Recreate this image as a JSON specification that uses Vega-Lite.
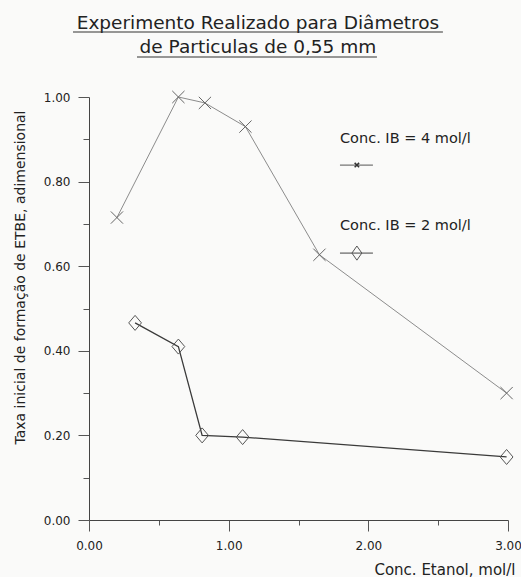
{
  "$schema": "https://vega.github.io/schema/vega-lite/v6.json",
  "width": 419,
  "height": 423,
  "autosize": "none",
  "padding": {"left": 89, "top": 97, "right": 13, "bottom": 57},
  "background": "#fafaf9",
  "config": {"view": {"stroke": null}, "font": "DejaVu Sans"},
  "datasets": {
    "dados": [
      {"conc": 0.20, "taxa": 0.715, "serie": "4 mol/l"},
      {"conc": 0.64, "taxa": 1.00, "serie": "4 mol/l"},
      {"conc": 0.83, "taxa": 0.986, "serie": "4 mol/l"},
      {"conc": 1.12, "taxa": 0.93, "serie": "4 mol/l"},
      {"conc": 1.65, "taxa": 0.627, "serie": "4 mol/l"},
      {"conc": 2.99, "taxa": 0.30, "serie": "4 mol/l"},
      {"conc": 0.33, "taxa": 0.466, "serie": "2 mol/l"},
      {"conc": 0.64, "taxa": 0.41, "serie": "2 mol/l"},
      {"conc": 0.81, "taxa": 0.20, "serie": "2 mol/l"},
      {"conc": 1.10, "taxa": 0.196, "serie": "2 mol/l"},
      {"conc": 2.99, "taxa": 0.149, "serie": "2 mol/l"}
    ]
  },
  "data": {"name": "dados"},
  "layer": [
    {
      "transform": [{"filter": "datum.serie == '4 mol/l'"}],
      "mark": {"type": "line", "color": "#8c8c8c", "strokeWidth": 1},
      "encoding": {
        "x": {
          "field": "conc",
          "type": "quantitative",
          "scale": {"domain": [0, 3], "nice": false, "zero": false},
          "axis": {
            "title": "Conc. Etanol, mol/l",
            "values": [0, 0.5, 1, 1.5, 2, 2.5, 3],
            "labelExpr": "datum.value % 1 == 0 ? format(datum.value, '.2f') : ''",
            "tickSize": {"condition": {"test": "datum.value % 1 == 0", "value": 11}, "value": 5},
            "grid": false,
            "domainColor": "#444",
            "tickColor": "#555",
            "labelFont": "DejaVu Sans",
            "labelFontSize": 12,
            "labelColor": "#222",
            "labelPadding": 9,
            "labelFlush": false,
            "titleFont": "DejaVu Sans",
            "titleFontSize": 15,
            "titleFontWeight": "normal",
            "titleColor": "#222",
            "titleX": 426,
            "titleY": 54,
            "titleAlign": "right",
            "titleBaseline": "alphabetic"
          }
        },
        "y": {
          "field": "taxa",
          "type": "quantitative",
          "scale": {"domain": [0, 1], "nice": false, "zero": false},
          "axis": {
            "title": "Taxa inicial de formação de ETBE, adimensional",
            "values": [0, 0.1, 0.2, 0.3, 0.4, 0.5, 0.6, 0.7, 0.8, 0.9, 1.0],
            "labelExpr": "abs(datum.value*5 - round(datum.value*5)) < 0.000001 ? format(datum.value, '.2f') : ''",
            "tickSize": {"condition": {"test": "abs(datum.value*5 - round(datum.value*5)) < 0.000001", "value": 11}, "value": 6},
            "grid": false,
            "domainColor": "#444",
            "tickColor": "#555",
            "labelFont": "DejaVu Sans",
            "labelFontSize": 12,
            "labelColor": "#222",
            "labelPadding": 8,
            "labelFlush": false,
            "titleFont": "DejaVu Sans",
            "titleFontSize": 14,
            "titleFontWeight": "normal",
            "titleColor": "#222",
            "titleX": -69,
            "titleY": 180,
            "titleAngle": -90,
            "titleAlign": "center",
            "titleBaseline": "middle"
          }
        }
      }
    },
    {
      "transform": [{"filter": "datum.serie == '4 mol/l'"}],
      "mark": {"type": "point", "shape": "M-1,-1L1,1M-1,1L1,-1", "size": 150, "filled": false, "color": "#666", "strokeWidth": 1, "opacity": 1},
      "encoding": {"x": {"field": "conc", "type": "quantitative"}, "y": {"field": "taxa", "type": "quantitative"}}
    },
    {
      "transform": [{"filter": "datum.serie == '2 mol/l'"}],
      "mark": {"type": "line", "color": "#3a3a3a", "strokeWidth": 1.3},
      "encoding": {"x": {"field": "conc", "type": "quantitative"}, "y": {"field": "taxa", "type": "quantitative"}}
    },
    {
      "transform": [{"filter": "datum.serie == '2 mol/l'"}],
      "mark": {"type": "point", "shape": "M-0.85,0L0,-1L0.85,0L0,1Z", "size": 225, "filled": false, "color": "#555", "strokeWidth": 1, "opacity": 1},
      "encoding": {"x": {"field": "conc", "type": "quantitative"}, "y": {"field": "taxa", "type": "quantitative"}}
    },
    {
      "data": {"values": [{"rotulo": "Experimento Realizado para Diâmetros"}]},
      "mark": {"type": "text", "align": "center", "baseline": "alphabetic", "font": "DejaVu Sans", "fontSize": 18.5, "color": "#222"},
      "encoding": {"x": {"datum": 1.2097}, "y": {"datum": 1.1608}, "text": {"field": "rotulo"}}
    },
    {
      "data": {"values": [{"rotulo": "de Particulas de 0,55 mm"}]},
      "mark": {"type": "text", "align": "center", "baseline": "alphabetic", "font": "DejaVu Sans", "fontSize": 18.5, "color": "#222"},
      "encoding": {"x": {"datum": 1.2097}, "y": {"datum": 1.1040}, "text": {"field": "rotulo"}}
    },
    {
      "data": {"values": [{"linha": 1}]},
      "mark": {"type": "rule", "color": "#333", "strokeWidth": 1.2},
      "encoding": {"x": {"datum": -0.1145}, "x2": {"datum": 2.534}, "y": {"datum": 1.1537}}
    },
    {
      "data": {"values": [{"linha": 2}]},
      "mark": {"type": "rule", "color": "#333", "strokeWidth": 1.2},
      "encoding": {"x": {"datum": 0.3436}, "x2": {"datum": 2.0616}, "y": {"datum": 1.0946}}
    },
    {
      "data": {"values": [{"rotulo": "Conc. IB = 4 mol/l"}]},
      "mark": {"type": "text", "align": "left", "baseline": "alphabetic", "font": "DejaVu Sans", "fontSize": 14.5, "color": "#222"},
      "encoding": {"x": {"datum": 1.797}, "y": {"datum": 0.891}, "text": {"field": "rotulo"}}
    },
    {
      "data": {"values": [{"rotulo": "Conc. IB = 2 mol/l"}]},
      "mark": {"type": "text", "align": "left", "baseline": "alphabetic", "font": "DejaVu Sans", "fontSize": 14.5, "color": "#222"},
      "encoding": {"x": {"datum": 1.797}, "y": {"datum": 0.686}, "text": {"field": "rotulo"}}
    },
    {
      "data": {"values": [{"serie": "4 mol/l"}]},
      "mark": {"type": "rule", "color": "#555", "strokeWidth": 1},
      "encoding": {"x": {"datum": 1.797}, "x2": {"datum": 2.033}, "y": {"datum": 0.839}}
    },
    {
      "data": {"values": [{"serie": "2 mol/l"}]},
      "mark": {"type": "rule", "color": "#444", "strokeWidth": 1},
      "encoding": {"x": {"datum": 1.797}, "x2": {"datum": 2.033}, "y": {"datum": 0.631}}
    },
    {
      "data": {"values": [{"serie": "4 mol/l"}]},
      "mark": {"type": "point", "shape": "M-1,-1L1,1M-1,1L1,-1", "size": 20, "filled": false, "color": "#333", "strokeWidth": 1.5, "opacity": 1},
      "encoding": {"x": {"datum": 1.918}, "y": {"datum": 0.839}}
    },
    {
      "data": {"values": [{"serie": "2 mol/l"}]},
      "mark": {"type": "point", "shape": "M-0.7,0L0,-1L0.7,0L0,1Z", "size": 200, "filled": false, "color": "#555", "strokeWidth": 1, "opacity": 1},
      "encoding": {"x": {"datum": 1.918}, "y": {"datum": 0.631}}
    }
  ]
}
